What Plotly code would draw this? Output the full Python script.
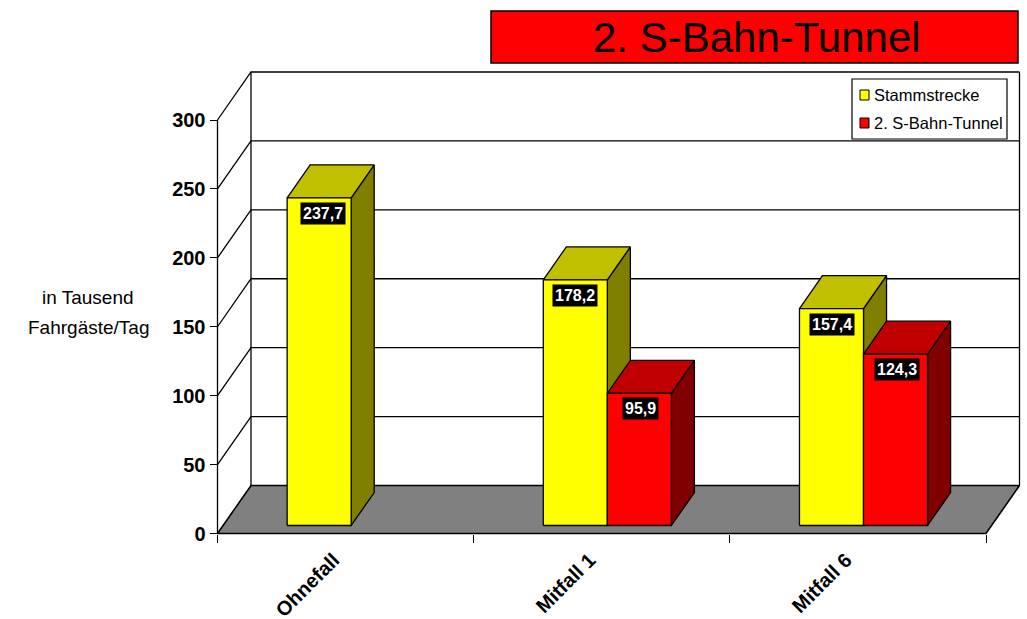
import plotly.graph_objects as go

# Values in thousand passengers per day
categories = ["Ohnefall", "Mitfall 1", "Mitfall 6"]
stammstrecke = [237.7, 178.2, 157.4]
tunnel = [None, 95.9, 124.3]
y_ticks = [0, 50, 100, 150, 200, 250, 300]

W, H = 1027, 619
# plot area of the front plane, in pixels
LEFT, RIGHT, BOTTOM, TOP = 217.5, 986, 533.5, 120
XU = (RIGHT - LEFT) / 3
YU = (BOTTOM - TOP) / 300
# fake 3d depth in data units
DX = 33.5 / XU
DY = 48 / YU
D_FRONT, D_BACK = 0.167, 0.854
BAR_W = 0.25
FONT = "Liberation Sans"
# subplot is bigger than the front plane so the depth is not clipped
DOM_L, DOM_R, DOM_B, DOM_T = 214.5, 1021, 537, 68


def px(x):
    return x / W


def py(y):
    return 1 - y / H


def poly(xs, ys, fill=None, width=1.3):
    return go.Scatter(
        x=xs, y=ys, mode="lines", cliponaxis=False, showlegend=False, hoverinfo="skip",
        line=dict(color="black", width=width),
        fill="toself" if fill else None, fillcolor=fill,
    )


def bar(x0, val, colors):
    # side and top first, then the front face
    x1 = x0 + BAR_W
    fx, fy = D_FRONT * DX, D_FRONT * DY
    bx, by = D_BACK * DX, D_BACK * DY
    return [
        poly([x1 + fx, x1 + bx, x1 + bx, x1 + fx, x1 + fx],
             [fy, by, val + by, val + fy, fy], colors[2]),
        poly([x0 + fx, x1 + fx, x1 + bx, x0 + bx, x0 + fx],
             [val + fy, val + fy, val + by, val + by, val + fy], colors[1]),
        poly([x0 + fx, x1 + fx, x1 + fx, x0 + fx, x0 + fx],
             [fy, fy, val + fy, val + fy, fy], colors[0]),
    ]


fig = go.Figure()

# floor
fig.add_trace(poly([0, 3, 3 + DX, DX, 0], [0, 0, DY, DY, 0], "#808080", 1.6))

# walls and gridlines
for t in y_ticks[1:]:
    fig.add_trace(poly([0, DX, 3 + DX], [t, t + DY, t + DY]))
fig.add_trace(poly([DX, DX], [DY, 300 + DY]))
fig.add_trace(poly([3 + DX, 3 + DX], [DY, 300 + DY]))
# axis lines
fig.add_trace(poly([0, 0], [0, 300]))

yellow = ("#FFFF00", "#C0C000", "#808000")
red = ("#FF0000", "#C00000", "#800000")
annos = []
label_shift = [[4, 0, 1], [0, 1, 1]]
for i in range(3):
    for s, (series, cols) in enumerate([(stammstrecke, yellow), (tunnel, red)]):
        v = series[i]
        if v is None:
            continue
        x0 = i + 0.25 + s * BAR_W
        for tr in bar(x0, v, cols):
            fig.add_trace(tr)
        annos.append(dict(
            x=x0 + BAR_W / 2 + D_FRONT * DX, y=v + D_FRONT * DY, xref="x", yref="y",
            text=f"{v:.1f}".replace(".", ","), showarrow=False, xanchor="center", yanchor="top",
            xshift=label_shift[s][i], yshift=-4, bgcolor="black", borderpad=2,
            font=dict(family=FONT, size=16, color="white", weight="bold"),
        ))

# title box
shapes = [
    dict(type="rect", xref="paper", yref="paper", x0=px(491), x1=px(1018), y0=py(63), y1=py(11),
         fillcolor="#FF0000", line=dict(color="black", width=1.5)),
    # legend box
    dict(type="rect", xref="paper", yref="paper", x0=px(852), x1=px(1007), y0=py(139), y1=py(79),
         fillcolor="white", line=dict(color="black", width=1.2)),
    dict(type="rect", xref="paper", yref="paper", x0=px(860), x1=px(869), y0=py(100), y1=py(90),
         fillcolor="#FFFF00", line=dict(color="black", width=1)),
    dict(type="rect", xref="paper", yref="paper", x0=px(860), x1=px(869), y0=py(128), y1=py(118),
         fillcolor="#FF0000", line=dict(color="black", width=1)),
]


def text(x, y, txt, size, anchor="center"):
    return dict(x=px(x), y=py(y), xref="paper", yref="paper", text=txt, showarrow=False,
                xanchor=anchor, yanchor="middle", font=dict(family=FONT, size=size, color="black"))


annos += [
    text(757, 38, "2. S-Bahn-Tunnel", 42),
    text(872, 95, "Stammstrecke", 16.5, "left"),
    text(872, 123, "2. S-Bahn-Tunnel", 16.5, "left"),
    text(88, 297, "in Tausend", 19),
    text(88, 327, "Fahrgäste/Tag", 19),
]

fig.update_layout(
    width=W, height=H,
    margin=dict(l=0, r=0, t=0, b=0),
    paper_bgcolor="white", plot_bgcolor="white",
    showlegend=False,
    shapes=shapes, annotations=annos,
    xaxis=dict(
        domain=[px(DOM_L), px(DOM_R)],
        range=[(DOM_L - LEFT) / XU, (DOM_R - LEFT) / XU],
        anchor="free", position=py(BOTTOM), automargin=False,
        tickmode="array", tickvals=[0.5, 1.5, 2.5], ticktext=categories, tickangle=-45,
        ticklabelstandoff=10, ticklabelshift=-12,
        ticks="", showgrid=False, zeroline=False, showline=False,
        tickfont=dict(family=FONT, size=20, color="black", weight="bold"),
        minor=dict(tickmode="array", tickvals=[0, 1, 2, 3], ticks="outside", ticklen=8,
                   tickcolor="black", tickwidth=1.3, showgrid=False),
    ),
    yaxis=dict(
        domain=[py(DOM_B), py(DOM_T)],
        range=[(BOTTOM - DOM_B) / YU, (BOTTOM - DOM_T) / YU],
        anchor="free", position=px(LEFT), automargin=False,
        tickmode="array", tickvals=y_ticks,
        ticks="outside", ticklen=8, tickcolor="black", tickwidth=1.3,
        showgrid=False, zeroline=False, showline=False,
        tickfont=dict(family=FONT, size=20, color="black", weight="bold"),
    ),
)

fig.write_html("out.html", post_script="document.body.style.margin='0';",
               config=dict(displayModeBar=False))
